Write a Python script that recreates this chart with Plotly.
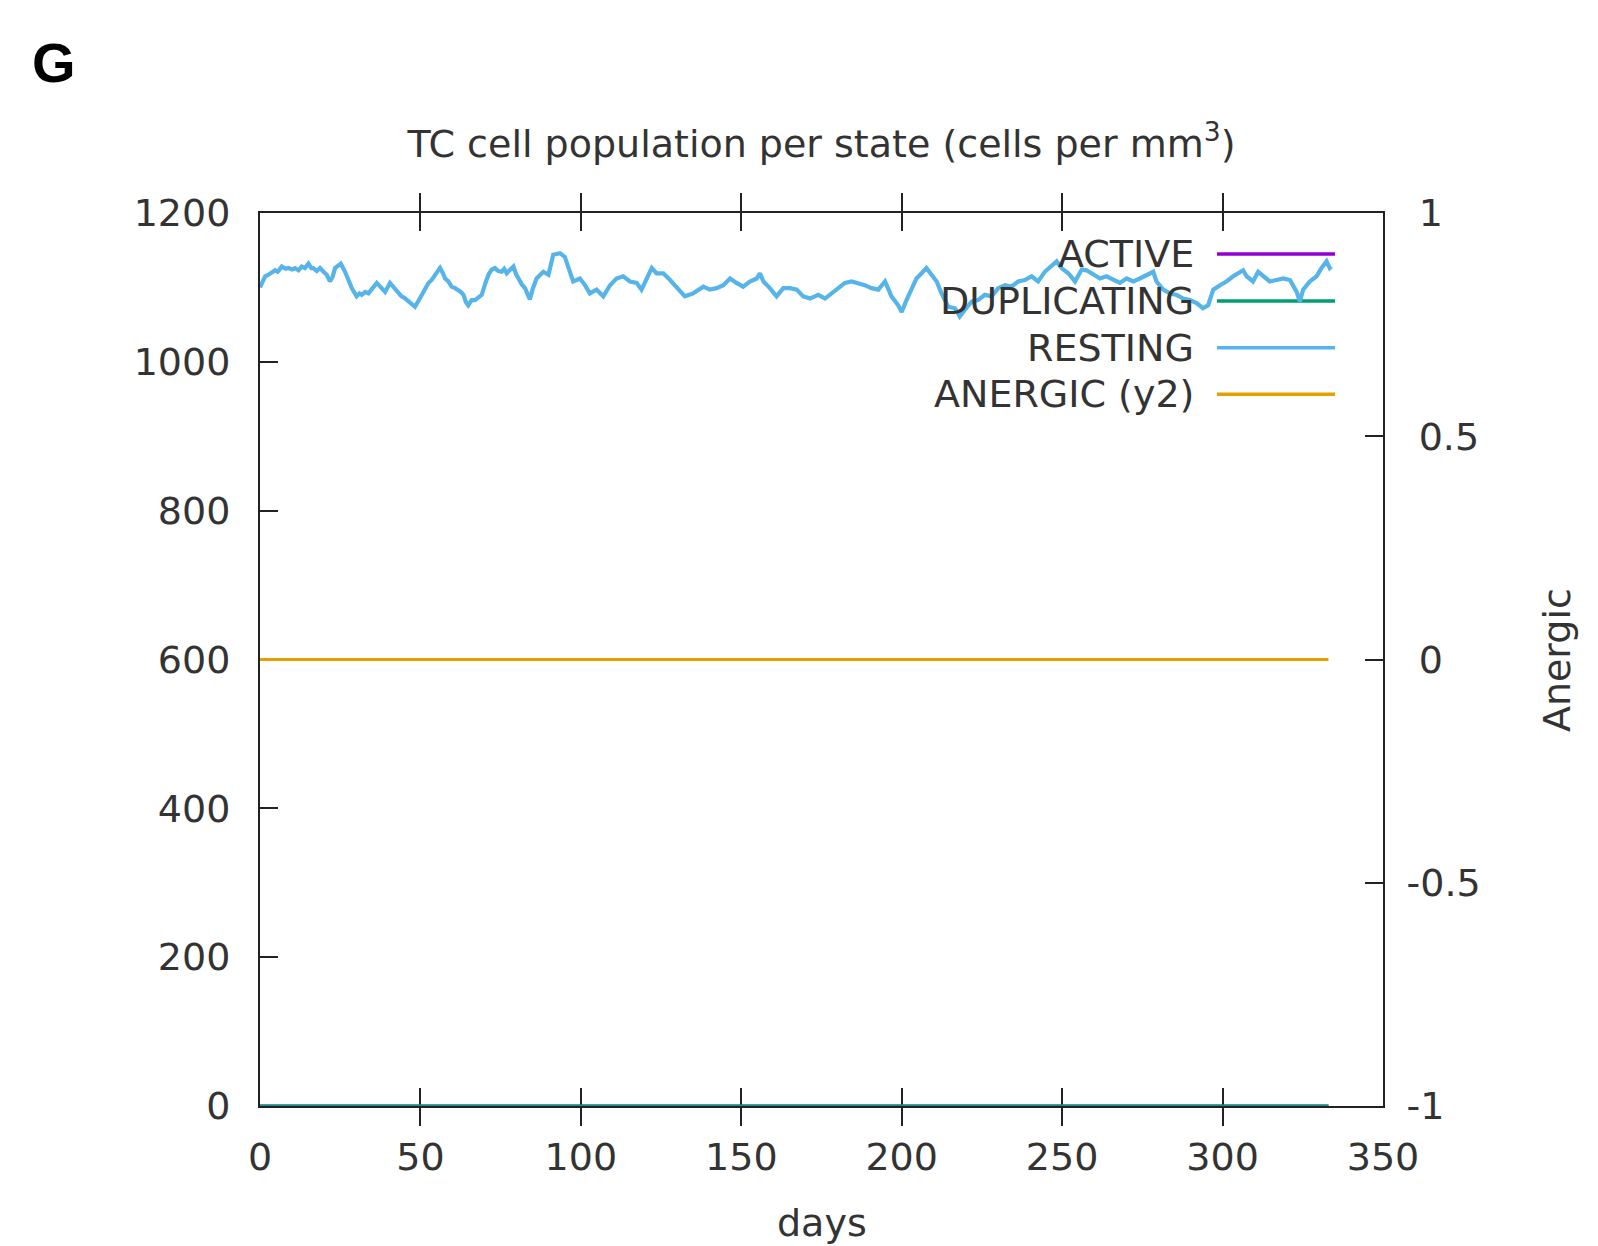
import plotly.graph_objects as go

# Simulation output: TC cell counts per state over time
days_resting = [
    0.0, 0.8, 1.6, 3.0, 4.7, 5.5, 6.8, 8.0, 8.8, 10.0, 10.9, 12.0, 13.0, 14.0, 15.1,
    16.0, 16.6, 17.7, 18.7, 19.8, 20.8, 21.8, 22.6, 23.4, 25.2, 26.5, 27.5, 28.6,
    30.1, 31.0, 31.7, 32.8, 33.8, 35.0, 36.4, 37.9, 39.0, 40.5, 42.1, 43.0, 44.1,
    45.0, 46.2, 47.3, 48.3, 49.4, 50.4, 51.5, 52.5, 53.5, 54.5, 55.3, 56.1, 57.0,
    57.7, 58.7, 59.7, 60.8, 61.8, 62.6, 63.4, 64.2, 64.9, 66.0, 67.0, 68.0, 69.1,
    70.2, 71.2, 72.2, 73.2, 74.3, 75.3, 76.1, 76.9, 78.0, 79.0, 79.8, 80.5, 81.6,
    82.6, 83.4, 84.1, 85.0, 86.2, 88.3, 89.9, 91.4, 93.5, 95.0, 96.1, 97.6, 99.7,
    101.3, 102.8, 104.9, 107.0, 109.1, 111.1, 113.2, 115.3, 117.4, 118.9, 120.5,
    122.1, 123.6, 125.7, 127.8, 129.8, 132.4, 135.0, 138.2, 140.2, 142.3, 144.4,
    146.5, 148.5, 150.6, 152.7, 154.8, 155.8, 156.9, 158.9, 161.0, 163.1, 165.2,
    167.3, 169.3, 171.4, 174.0, 176.1, 178.1, 180.2, 182.3, 184.4, 186.4, 188.5,
    190.6, 192.7, 194.8, 196.8, 198.9, 200.0, 201.5, 203.1, 204.6, 206.2, 207.7,
    209.3, 210.9, 212.4, 214.5, 216.6, 218.1, 219.7, 221.8, 223.8, 225.9, 228.0,
    230.1, 232.2, 234.2, 236.3, 238.4, 240.5, 242.5, 244.6, 246.7, 248.3, 249.8,
    251.9, 254.0, 256.1, 257.6, 259.7, 261.8, 263.8, 265.9, 268.0, 270.1, 272.2,
    274.2, 276.3, 278.4, 279.4, 281.5, 283.6, 285.7, 287.7, 289.8, 291.9, 293.9,
    295.5, 297.1, 299.2, 301.2, 303.3, 305.4, 306.4, 307.5, 309.5, 311.1, 312.7,
    314.7, 316.8, 318.9, 321.0, 323.1, 324.1, 325.1, 327.2, 329.3, 330.8, 332.4,
    333.4, 333.9,
]
resting = [
    1100, 1108, 1115, 1118, 1123, 1121, 1128, 1125, 1126, 1124, 1126, 1123, 1128, 1126, 1132,
    1126, 1126, 1122, 1126, 1121, 1117, 1108, 1114, 1126, 1132, 1121, 1110, 1099,
    1088, 1092, 1090, 1094, 1092, 1098, 1106, 1099, 1094, 1106, 1097, 1093, 1088,
    1086, 1081, 1078, 1074, 1082, 1090, 1098, 1106, 1110, 1117, 1122, 1126, 1119,
    1112, 1108, 1101, 1099, 1097, 1094, 1090, 1080, 1076, 1083, 1083, 1087, 1090,
    1105, 1117, 1124, 1126, 1122, 1121, 1125, 1119, 1124, 1128, 1118, 1112, 1104,
    1099, 1090, 1084, 1098, 1112, 1121, 1117, 1144, 1146, 1141, 1126, 1108, 1112,
    1103, 1092, 1097, 1088, 1103, 1112, 1115, 1108, 1106, 1097, 1112,
    1126, 1119, 1119, 1110, 1101, 1088, 1092, 1101, 1097, 1099, 1103,
    1112, 1106, 1101, 1108, 1112, 1119, 1108, 1099, 1088, 1099, 1099,
    1097, 1088, 1085, 1090, 1085, 1092, 1099, 1106, 1108, 1106, 1103,
    1099, 1097, 1108, 1088, 1076, 1067, 1083, 1099, 1112, 1119, 1126,
    1117, 1108, 1092, 1074, 1072, 1061, 1070, 1081, 1083, 1090, 1088,
    1099, 1103, 1101, 1108, 1110, 1115, 1108, 1121, 1130, 1135, 1126,
    1119, 1108, 1124, 1123, 1117, 1112, 1115, 1110, 1106, 1112, 1108,
    1112, 1117, 1121, 1108, 1097, 1092, 1090, 1085, 1083, 1079, 1072,
    1076, 1097, 1103, 1108, 1115, 1121, 1123, 1115, 1108, 1121, 1115,
    1108, 1110, 1112, 1110, 1094, 1081, 1097, 1108, 1115, 1126, 1135,
    1126, 1128,
]

# Constant states (active / duplicating at zero, anergic at zero on y2)
days_flat = [0, 333]
active = [0, 0]
duplicating = [0, 0]
anergic = [0, 0]

x_ticks = [0, 50, 100, 150, 200, 250, 300, 350]
y_ticks = [0, 200, 400, 600, 800, 1000, 1200]
y2_ticks = [-1, -0.5, 0, 0.5, 1]
# non-negative labels get a leading figure-width pad so minus signs hang left
y2_labels = ["-1", "-0.5", "\u00a00", "\u00a00.5", "\u00a01"]

legend_names = ["ACTIVE", "DUPLICATING", "RESTING", "ANERGIC (y2)"]
colors = ["#9400d3", "#009e73", "#56b4e9", "#e69f00"]

FONT = "DejaVu Sans"
TXT = "#333333"
AX = "#222222"

fig = go.Figure()
fig.add_trace(go.Scatter(x=days_flat, y=active, mode="lines",
                         line=dict(color=colors[0], width=3), showlegend=False))
fig.add_trace(go.Scatter(x=days_flat, y=duplicating, mode="lines",
                         line=dict(color=colors[1], width=3), showlegend=False))
fig.add_trace(go.Scatter(x=days_resting, y=resting, mode="lines",
                         line=dict(color=colors[2], width=4.2), showlegend=False))
fig.add_trace(go.Scatter(x=days_flat, y=anergic, mode="lines", yaxis="y2",
                         line=dict(color=colors[3], width=3), showlegend=False))

# gnuplot-style key: right-aligned labels followed by line samples
row_y = [0.9541, 0.9015, 0.8492, 0.7970]
for name, col, ry in zip(legend_names, colors, row_y):
    fig.add_annotation(x=0.8335, y=ry, xref="paper", yref="paper", text=name,
                       showarrow=False, xanchor="right", yanchor="middle",
                       font=dict(family=FONT, size=38, color=TXT))
    fig.add_shape(type="line", xref="paper", yref="paper", x0=0.8522, x1=0.9573,
                  y0=ry, y1=ry, line=dict(color=col, width=3.5), layer="below")

fig.add_annotation(x=0.5, y=-0.131, xref="paper", yref="paper", text="days",
                   showarrow=False, xanchor="center", yanchor="middle",
                   font=dict(family=FONT, size=38, color=TXT))
fig.add_annotation(x=1.155, y=0.4994, xref="paper", yref="paper", text="Anergic",
                   textangle=-90, showarrow=False, xanchor="center", yanchor="middle",
                   font=dict(family=FONT, size=38, color=TXT))
fig.add_annotation(x=-0.2048, y=1.168, xref="paper", yref="paper", text="<b>G</b>",
                   showarrow=False, xanchor="left", yanchor="middle",
                   font=dict(family="Liberation Sans", size=56, color="#000000"))

fig.update_layout(
    width=1598, height=1246,
    margin=dict(l=260, r=215, t=213, b=140),
    paper_bgcolor="white", plot_bgcolor="white",
    title=dict(text="TC cell population per state (cells per mm<sup>3</sup>)",
               x=0.5, xref="paper", xanchor="center",
               y=1 - 144 / 1246, yref="container", yanchor="middle",
               font=dict(family=FONT, size=38, color=TXT)),
    xaxis=dict(range=[0, 350], tickvals=x_ticks, showgrid=False, zeroline=False,
               showline=True, linecolor=AX, linewidth=2, mirror="allticks",
               ticks="inside", ticklen=18, tickwidth=2, tickcolor=AX,
               ticklabelstandoff=16, layer="below traces",
               tickfont=dict(family=FONT, size=38, color=TXT)),
    yaxis=dict(range=[0, 1200], tickvals=y_ticks, showgrid=False, zeroline=False,
               showline=True, linecolor=AX, linewidth=2, mirror=False,
               ticks="inside", ticklen=18, tickwidth=2, tickcolor=AX,
               ticklabelstandoff=20, layer="below traces",
               tickfont=dict(family=FONT, size=38, color=TXT)),
    yaxis2=dict(range=[-1, 1], tickvals=y2_ticks, ticktext=y2_labels,
                overlaying="y", side="right", showgrid=False, zeroline=False,
                showline=True, linecolor=AX, linewidth=2,
                ticks="inside", ticklen=18, tickwidth=2, tickcolor=AX,
                ticklabelstandoff=14, layer="below traces",
                tickfont=dict(family=FONT, size=38, color=TXT)),
)

fig.write_html("out.html")
